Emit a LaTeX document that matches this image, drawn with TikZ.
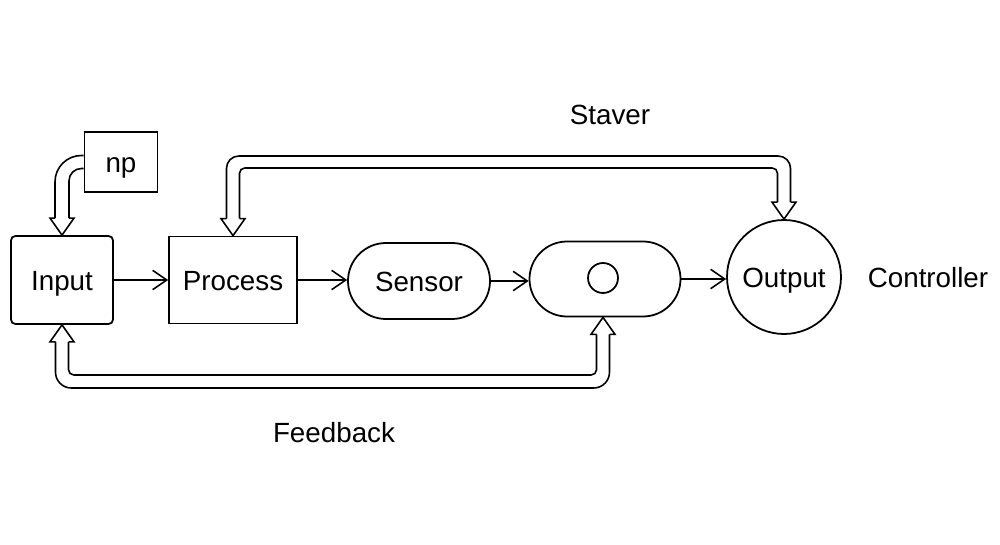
\documentclass[tikz,border=0pt]{standalone}
\usepackage{fontspec}
\setmainfont{Liberation Sans}
\usetikzlibrary{calc,arrows.meta}
\tikzset{
  lbl/.style={font=\fontsize{15.8}{19}\selectfont, inner sep=0pt, text height=11.4pt, text depth=0pt},
  box/.style={lbl, draw, line width=1pt},
  conn/.style={line width=0.9pt, -{Straight Barb[length=8pt,width=11pt]}},
  hol/.style={line width=0.9pt, line join=miter},
}
\begin{document}
\begin{tikzpicture}[x=0.2mm, y=-0.2mm]
\useasboundingbox (0,0) rectangle (1000,545);
% nodes
\node[box, rounded corners=2.5pt, minimum width=20.4mm, minimum height=17.6mm] (in) at (62,280) {Input};
\node[box, minimum width=14.6mm, minimum height=12mm] (np) at (121,162) {np};
\node[box, minimum width=25.6mm, minimum height=17.4mm] (proc) at (233,280) {Process};
\node[box, rounded corners=7.6mm, minimum width=28.4mm, minimum height=15.2mm] (sens) at (419,281) {Sensor};
\node[box, rounded corners=7.5mm, minimum width=30.2mm, minimum height=15mm] (oval) at (605,279) {};
\node[box, circle, minimum size=6mm] (dot) at (603,278) {};
\node[box, circle, minimum size=22.8mm] (out) at (784,277) {Output};
\node[lbl] (ctrl) at (928,277) {Controller};
\node[lbl] (stav) at (610,114) {Staver};
\node[lbl] (fb) at (334,432) {Feedback};
% plain arrows
\draw[conn] (in.east) -- (proc.west |- in.east);
\draw[conn] (proc.east) -- (sens.west |- proc.east);
\draw[conn] (sens.east) -- (oval.west |- sens.east);
\draw[conn] (oval.east) -- (out.west |- oval.east);
% np -> Input hollow arrow
\coordinate (nl) at ($(in.north)+(-7,-17)$);
\coordinate (nr) at ($(in.north)+(7,-17)$);
\draw[hol, rounded corners=15pt] ($(np.west)+(0,-6.5)$) -| (nl);
\draw[hol, rounded corners=7pt] ($(np.west)+(0,6.5)$) -| (nr);
\draw[hol] (nl) -- +(-5,0) -- (in.north) -- ($(nr)+(5,0)$) -- (nr);
% Staver hollow arrow (Output -> Process)
\coordinate (topo) at (0,156);
\coordinate (topi) at (0,168);
\coordinate (pl) at ($(proc.north)+(-6.5,-17)$);
\coordinate (pr) at ($(proc.north)+(6.5,-17)$);
\coordinate (ol) at ($(out.north)+(-6.5,-17)$);
\coordinate (or) at ($(out.north)+(6.5,-17)$);
\draw[hol, rounded corners=3pt] (pr) -- (pr |- topi) -- (ol |- topi) -- (ol);
\draw[hol, rounded corners=7pt] (pl) -- (pl |- topo) -- (or |- topo) -- (or);
\draw[hol] (pl) -- +(-5.5,0) -- (proc.north) -- ($(pr)+(5.5,0)$) -- (pr);
\draw[hol] (ol) -- +(-5.5,0) -- (out.north) -- ($(or)+(5.5,0)$) -- (or);
% Feedback hollow arrow
\coordinate (t2) at (dot |- oval.south);
\coordinate (boti) at (0,375);
\coordinate (boto) at (0,388);
\coordinate (bl) at ($(in.south)+(-6.5,17)$);
\coordinate (br) at ($(in.south)+(6.5,17)$);
\coordinate (cl) at ($(t2)+(-6.5,17)$);
\coordinate (cr) at ($(t2)+(6.5,17)$);
\draw[hol, rounded corners=3pt] (br) -- (br |- boti) -- (cl |- boti) -- (cl);
\draw[hol, rounded corners=9pt] (bl) -- (bl |- boto) -- (cr |- boto) -- (cr);
\draw[hol] (bl) -- +(-5.5,0) -- (in.south) -- ($(br)+(5.5,0)$) -- (br);
\draw[hol] (cl) -- +(-5.5,0) -- (t2) -- ($(cr)+(5.5,0)$) -- (cr);
\end{tikzpicture}
\end{document}
